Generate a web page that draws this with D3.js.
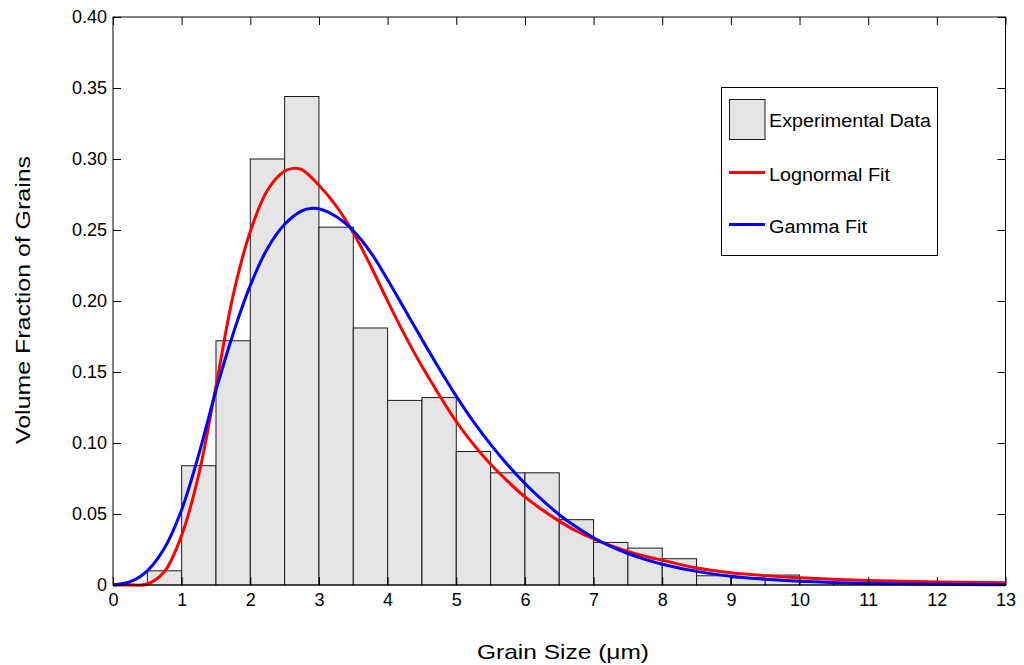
<!DOCTYPE html>
<html>
<head>
<meta charset="utf-8">
<script src="https://cdn.jsdelivr.net/npm/d3@7/dist/d3.min.js"></script>
<style>
  html, body { margin: 0; padding: 0; background: #fff; }
  svg { display: block; }
  text { font-family: "Liberation Sans", Arial, sans-serif; fill: #000; }
</style>
</head>
<body>
<svg id="chart" width="1024" height="665"></svg>
<script>
// ---- data ----
const binStarts = [0.5, 1.0, 1.5, 2.0, 2.5, 3.0, 3.5, 4.0, 4.5, 5.0, 5.5, 6.0, 6.5, 7.0, 7.5, 8.0, 8.5, 9.0, 9.5, 10.0, 10.5, 11.0, 11.5, 12.0];
const binWidth = 0.5;
const volumeFraction = [0.010, 0.084, 0.172, 0.300, 0.344, 0.252, 0.181, 0.130, 0.132, 0.094, 0.079, 0.079, 0.046, 0.030, 0.026, 0.0185, 0.0065, 0.005, 0.007, 0.002, 0.0015, 0.001, 0.001, 0.001];

const lognormalX = [0, 0.25, 0.5, 0.75, 1.0, 1.25, 1.5, 1.75, 2.0, 2.25, 2.5, 2.625, 2.75, 3.0, 3.25, 3.5, 3.75, 4.0, 4.25, 4.5, 4.75, 5.0, 5.25, 5.5, 5.75, 6.0, 6.25, 6.5, 6.75, 7.0, 7.25, 7.5, 7.75, 8.0, 8.5, 9.0, 9.5, 10, 11, 12, 13];
const lognormalY = [0, 0, 0.0007, 0.0095, 0.035, 0.078, 0.140, 0.204, 0.249, 0.278, 0.2915, 0.2934, 0.2925, 0.2815, 0.267, 0.248, 0.225, 0.200, 0.176, 0.154, 0.134, 0.115, 0.099, 0.085, 0.073, 0.062, 0.053, 0.045, 0.038, 0.0325, 0.0277, 0.0236, 0.0203, 0.0175, 0.0120, 0.0087, 0.0066, 0.0051, 0.0032, 0.0022, 0.0015];

const gammaX = [0, 0.25, 0.5, 0.75, 1.0, 1.25, 1.5, 1.75, 2.0, 2.25, 2.5, 2.75, 2.9, 3.0, 3.25, 3.5, 3.75, 4.0, 4.25, 4.5, 4.75, 5.0, 5.25, 5.5, 5.75, 6.0, 6.25, 6.5, 6.75, 7.0, 7.25, 7.5, 7.75, 8.0, 8.5, 9.0, 9.5, 10, 11, 12, 13];
const gammaY = [0, 0.0023, 0.0100, 0.026, 0.053, 0.092, 0.137, 0.177, 0.211, 0.237, 0.254, 0.2635, 0.2653, 0.265, 0.2595, 0.2495, 0.2345, 0.2150, 0.1940, 0.1730, 0.1525, 0.1330, 0.1150, 0.0990, 0.0845, 0.0715, 0.0600, 0.0495, 0.0408, 0.0333, 0.0272, 0.0222, 0.0180, 0.0146, 0.0096, 0.0062, 0.0040, 0.0026, 0.0011, 0.0005, 0.0002];

const xTicks = [0, 1, 2, 3, 4, 5, 6, 7, 8, 9, 10, 11, 12, 13];
const yTicks = [0, 0.05, 0.10, 0.15, 0.20, 0.25, 0.30, 0.35, 0.40];
const yTickLabels = ["0", "0.05", "0.10", "0.15", "0.20", "0.25", "0.30", "0.35", "0.40"];
const legendLabels = ["Experimental Data", "Lognormal Fit", "Gamma Fit"];

// ---- layout ----
const svg = d3.select("#chart");
const L = 113, R = 1005.5, T = 17, B = 585;
const x = d3.scaleLinear().domain([0, 13]).range([L, R]);
const y = d3.scaleLinear().domain([0, 0.4]).range([B, T]);

// bars
svg.append("g").selectAll("rect").data(binStarts).join("rect")
  .attr("x", (d) => x(d))
  .attr("width", (d) => x(d + binWidth) - x(d))
  .attr("y", (d, i) => y(volumeFraction[i]))
  .attr("height", (d, i) => B - y(volumeFraction[i]))
  .attr("fill", "#e5e5e5")
  .attr("stroke", "#1a1a1a")
  .attr("stroke-width", 1);

// curves
const line = d3.line().x(d => x(d[0])).y(d => y(d[1])).curve(d3.curveCatmullRom.alpha(0.5));
svg.append("path").datum(d3.zip(lognormalX, lognormalY))
  .attr("d", line).attr("fill", "none").attr("stroke", "#ff0000").attr("stroke-width", 3);
svg.append("path").datum(d3.zip(gammaX, gammaY))
  .attr("d", line).attr("fill", "none").attr("stroke", "#0000ff").attr("stroke-width", 3);

// axes
const tickLen = 8;
const fontSize = 18;
const gx = svg.append("g").attr("transform", `translate(0,${B})`)
  .call(d3.axisBottom(x).tickValues(xTicks).tickSize(-tickLen).tickPadding(8).tickFormat(d3.format("d")));
const gxTop = svg.append("g").attr("transform", `translate(0,${T})`)
  .call(d3.axisTop(x).tickValues(xTicks).tickSize(-tickLen).tickFormat(""));
const gy = svg.append("g").attr("transform", `translate(${L},0)`)
  .call(d3.axisLeft(y).tickValues(yTicks).tickSize(-tickLen).tickPadding(6).tickFormat((d, i) => yTickLabels[i]));
const gyRight = svg.append("g").attr("transform", `translate(${R},0)`)
  .call(d3.axisRight(y).tickValues(yTicks).tickSize(-tickLen).tickFormat(""));

[gx, gxTop, gy, gyRight].forEach(g => {
  g.select(".domain").remove();
  g.selectAll(".tick line").attr("stroke", "#000").attr("stroke-width", 1);
  g.selectAll("text").attr("font-size", fontSize).attr("fill", "#000")
    .style("font-family", '"Liberation Sans", Arial, sans-serif');
});

// frame
svg.append("rect").attr("x", L).attr("y", T).attr("width", R - L).attr("height", B - T)
  .attr("fill", "none").attr("stroke", "#000").attr("stroke-width", 1);

// axis titles
svg.append("text").attr("x", 563).attr("y", 659).attr("text-anchor", "middle")
  .attr("font-size", 21).attr("textLength", 172).attr("lengthAdjust", "spacingAndGlyphs")
  .text("Grain Size (μm)");
svg.append("text").attr("transform", "translate(30,300) rotate(-90)").attr("text-anchor", "middle")
  .attr("font-size", 21).attr("textLength", 288).attr("lengthAdjust", "spacingAndGlyphs")
  .text("Volume Fraction of Grains");

// legend
const lg = svg.append("g");
lg.append("rect").attr("x", 721.5).attr("y", 87.5).attr("width", 216).attr("height", 168)
  .attr("fill", "#fff").attr("stroke", "#000").attr("stroke-width", 1);
lg.append("rect").attr("x", 729.5).attr("y", 99.5).attr("width", 35.5).attr("height", 40)
  .attr("fill", "#e5e5e5").attr("stroke", "#1a1a1a").attr("stroke-width", 1);
lg.append("line").attr("x1", 729).attr("x2", 765).attr("y1", 172.5).attr("y2", 172.5)
  .attr("stroke", "#ff0000").attr("stroke-width", 3);
lg.append("line").attr("x1", 729).attr("x2", 765).attr("y1", 224.5).attr("y2", 224.5)
  .attr("stroke", "#0000ff").attr("stroke-width", 3);
const legendY = [127, 181, 233];
const legendW = [162, 121, 98];
legendLabels.forEach((t, i) => {
  lg.append("text").attr("x", 769).attr("y", legendY[i]).attr("font-size", 18)
    .attr("textLength", legendW[i]).attr("lengthAdjust", "spacingAndGlyphs").text(t);
});
</script>
</body>
</html>
